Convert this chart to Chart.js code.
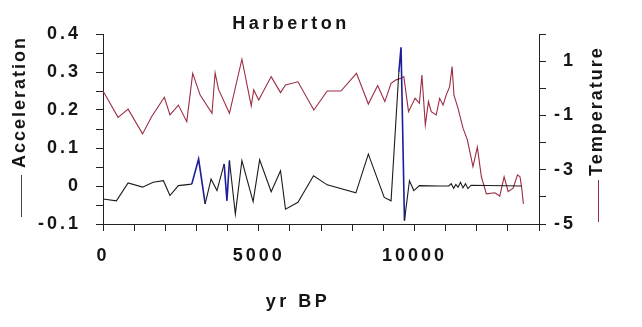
<!DOCTYPE html>
<html>
<head>
<meta charset="utf-8">
<script src="https://cdn.jsdelivr.net/npm/chart.js@4.4.1/dist/chart.umd.min.js"></script>
<style>
  html, body { margin: 0; padding: 0; background: #fff; }
  #wrap { width: 642px; height: 327px; }
</style>
</head>
<body>
<div id="wrap"><canvas id="chart" width="642" height="327"></canvas></div>
<script>
// ── Données ────────────────────────────────────────────────────────────────
const tempYears = [0, 484, 806, 1270, 1560, 1970, 2150, 2420, 2690, 2880,
  3120, 3500, 3600, 3710, 4060, 4460, 4760, 4840, 5000, 5400,
  5700, 5860, 6260, 6770, 7200, 7640, 8140, 8520, 8820, 9050,
  9250, 9410, 9570, 9660, 9810, 10020, 10160, 10240, 10350, 10450,
  10540, 10700, 10810, 10920, 11020, 11130, 11210, 11270, 11400, 11560,
  11700, 11880, 12020, 12150, 12310, 12580, 12740, 12880, 13010, 13170,
  13310, 13390, 13440, 13500];
const tempValues = [-0.10, -1.07, -0.77, -1.68, -1.05, -0.33, -0.98, -0.62, -1.23, 0.55,
  -0.25, -0.92, 0.57, -0.04, -0.92, 1.07, -0.65, -0.06, -0.43, 0.43,
  -0.16, 0.12, 0.24, -0.80, -0.10, -0.10, 0.55, -0.58, 0.10, -0.49,
  0.18, 0.31, 0.37, 0.43, -0.86, -0.37, -0.55, 0.49, -1.35, -0.49,
  -0.86, -0.98, -0.37, -0.62, -0.25, 0.06, 0.80, -0.25, -0.74, -1.47,
  -1.90, -2.89, -2.17, -3.26, -3.89, -3.85, -3.97, -3.26, -3.81, -3.68,
  -3.19, -3.26, -3.63, -4.26];

const accYears = [0, 430, 806, 1270, 1610, 1940, 2150, 2420, 2850, 3070,
  3280, 3470, 3660, 3890, 3980, 4060, 4250, 4460, 4820, 5030,
  5400, 5700, 5860, 6260, 6760, 7200, 8120, 8520, 9030, 9250,
  9500, 9570, 9680, 9840, 9980, 10160, 10800, 11100, 11180, 11260,
  11330, 11400, 11480, 11560, 11640, 11720, 11820, 13440];
const accValues = [-0.034, -0.039, 0.008, -0.003, 0.010, 0.014, -0.025, 0.001, 0.005, 0.071,
  -0.047, 0.018, -0.012, 0.058, -0.039, 0.067, -0.074, 0.067, -0.041, 0.069,
  -0.015, 0.040, -0.061, -0.043, 0.027, 0.003, -0.018, 0.084, -0.030, -0.039,
  0.30, 0.365, -0.091, 0.014, -0.012, 0.001, 0, 0, 0.006, -0.006,
  0.004, -0.003, 0.010, -0.005, 0.006, -0.007, 0.002, 0];

// tronçons tracés en bleu sur la courbe d'accélération
const accBlueRanges = [[2850, 3280], [3890, 4060], [9500, 9680]];

const xLabelTicks = [0, 5000, 10000];
const accLabelTicks = [0.4, 0.3, 0.2, 0.1, 0, -0.1];
const tempLabelTicks = [1, -1, -3, -5];

// ── Styles ─────────────────────────────────────────────────────────────────
const FONT = '"Liberation Sans", Arial, sans-serif';
const INK = '#151515';
const AXIS = '#222';
const ACC_COLOR = '#1c1c1c';
const BLUE = '#1d1d9c';
const TEMP_COLOR = '#9b2d42';
const SPACING = '3px';

const near = (a, b) => Math.abs(a - b) < 1e-6;

// Textes dessinés à la main : titre, titres d'axes avec leur trait de légende
const textPlugin = {
  id: 'texts',
  beforeUpdate(chart) { chart.ctx.letterSpacing = SPACING; },
  beforeDraw(chart) { chart.ctx.letterSpacing = SPACING; },
  afterDraw(chart) {
    const ctx = chart.ctx;
    ctx.save();
    ctx.fillStyle = INK;
    ctx.textBaseline = 'alphabetic';

    ctx.font = 'bold 18px ' + FONT;
    ctx.letterSpacing = '3.5px';
    ctx.textAlign = 'center';
    ctx.fillText('Harberton', 291, 29);
    ctx.fillText('yr BP', 298, 307);

    ctx.letterSpacing = '2px';
    ctx.textAlign = 'left';
    ctx.save();
    ctx.translate(25, 168);
    ctx.rotate(-Math.PI / 2);
    ctx.fillText('Acceleration', 0, 0);
    ctx.restore();

    ctx.save();
    ctx.translate(602, 176);
    ctx.rotate(-Math.PI / 2);
    ctx.fillText('Temperature', 0, 0);
    ctx.restore();

    ctx.lineWidth = 1;
    ctx.strokeStyle = '#444';
    ctx.beginPath(); ctx.moveTo(21.5, 175); ctx.lineTo(21.5, 217); ctx.stroke();
    ctx.strokeStyle = TEMP_COLOR;
    ctx.beginPath(); ctx.moveTo(598.5, 180); ctx.lineTo(598.5, 222); ctx.stroke();
    ctx.restore();
  },
};

const tickFont = { family: FONT, size: 18, weight: 'bold' };

new Chart(document.getElementById('chart'), {
  type: 'line',
  data: {
    datasets: [
      {
        label: 'Acceleration',
        data: accYears.map((x, i) => ({ x, y: accValues[i] })),
        yAxisID: 'y',
        borderColor: ACC_COLOR,
        borderWidth: 1.1,
        pointRadius: 0,
        tension: 0,
        segment: {
          borderColor: c => accBlueRanges.some(([a, b]) =>
            c.p0.parsed.x >= a && c.p1.parsed.x <= b) ? BLUE : ACC_COLOR,
          borderWidth: c => accBlueRanges.some(([a, b]) =>
            c.p0.parsed.x >= a && c.p1.parsed.x <= b) ? 1.6 : 1.1,
        },
      },
      {
        label: 'Temperature',
        data: tempYears.map((x, i) => ({ x, y: tempValues[i] })),
        yAxisID: 'y1',
        borderColor: TEMP_COLOR,
        borderWidth: 1.1,
        pointRadius: 0,
        tension: 0,
      },
    ],
  },
  options: {
    responsive: false,
    animation: false,
    events: [],
    // marge droite : les étiquettes de droite sont alignées à droite du bord de l'axe
    layout: { padding: { top: 34, left: 0, right: 66, bottom: 0 } },
    plugins: { legend: { display: false }, tooltip: { enabled: false }, title: { display: false } },
    scales: {
      x: {
        type: 'linear',
        min: 0,
        max: 14000,
        afterFit: s => { s.height = 103; },
        ticks: {
          stepSize: 1000,
          autoSkip: false,
          maxRotation: 0,
          padding: 14,
          color: INK,
          font: tickFont,
          callback: v => xLabelTicks.some(t => near(t, v)) ? String(v) : '',
        },
        grid: { drawOnChartArea: false, drawTicks: true, tickLength: 7, color: AXIS },
        border: { display: true, color: AXIS, width: 1 },
      },
      y: {
        position: 'left',
        min: -0.1,
        max: 0.4,
        afterFit: s => { s.width = 103; },
        ticks: {
          stepSize: 0.05,
          autoSkip: false,
          padding: 15,
          color: INK,
          font: tickFont,
          callback: v => {
            const t = accLabelTicks.find(t => near(t, v));
            return t === undefined ? '' : (t === 0 ? '0' : t.toFixed(1));
          },
        },
        grid: { drawOnChartArea: false, drawTicks: true, tickLength: 7, color: AXIS },
        border: { display: true, color: AXIS, width: 1 },
      },
      y1: {
        position: 'right',
        min: -5,
        max: 2,
        afterFit: s => { s.width = 37; },
        ticks: {
          stepSize: 1,
          autoSkip: false,
          padding: 8,
          crossAlign: 'far',
          color: INK,
          font: tickFont,
          callback: v => tempLabelTicks.some(t => near(t, v)) ? String(v) : '',
        },
        grid: { drawOnChartArea: false, drawTicks: true, tickLength: 7, color: AXIS },
        border: { display: true, color: AXIS, width: 1 },
      },
    },
  },
  plugins: [textPlugin],
});
</script>
</body>
</html>
